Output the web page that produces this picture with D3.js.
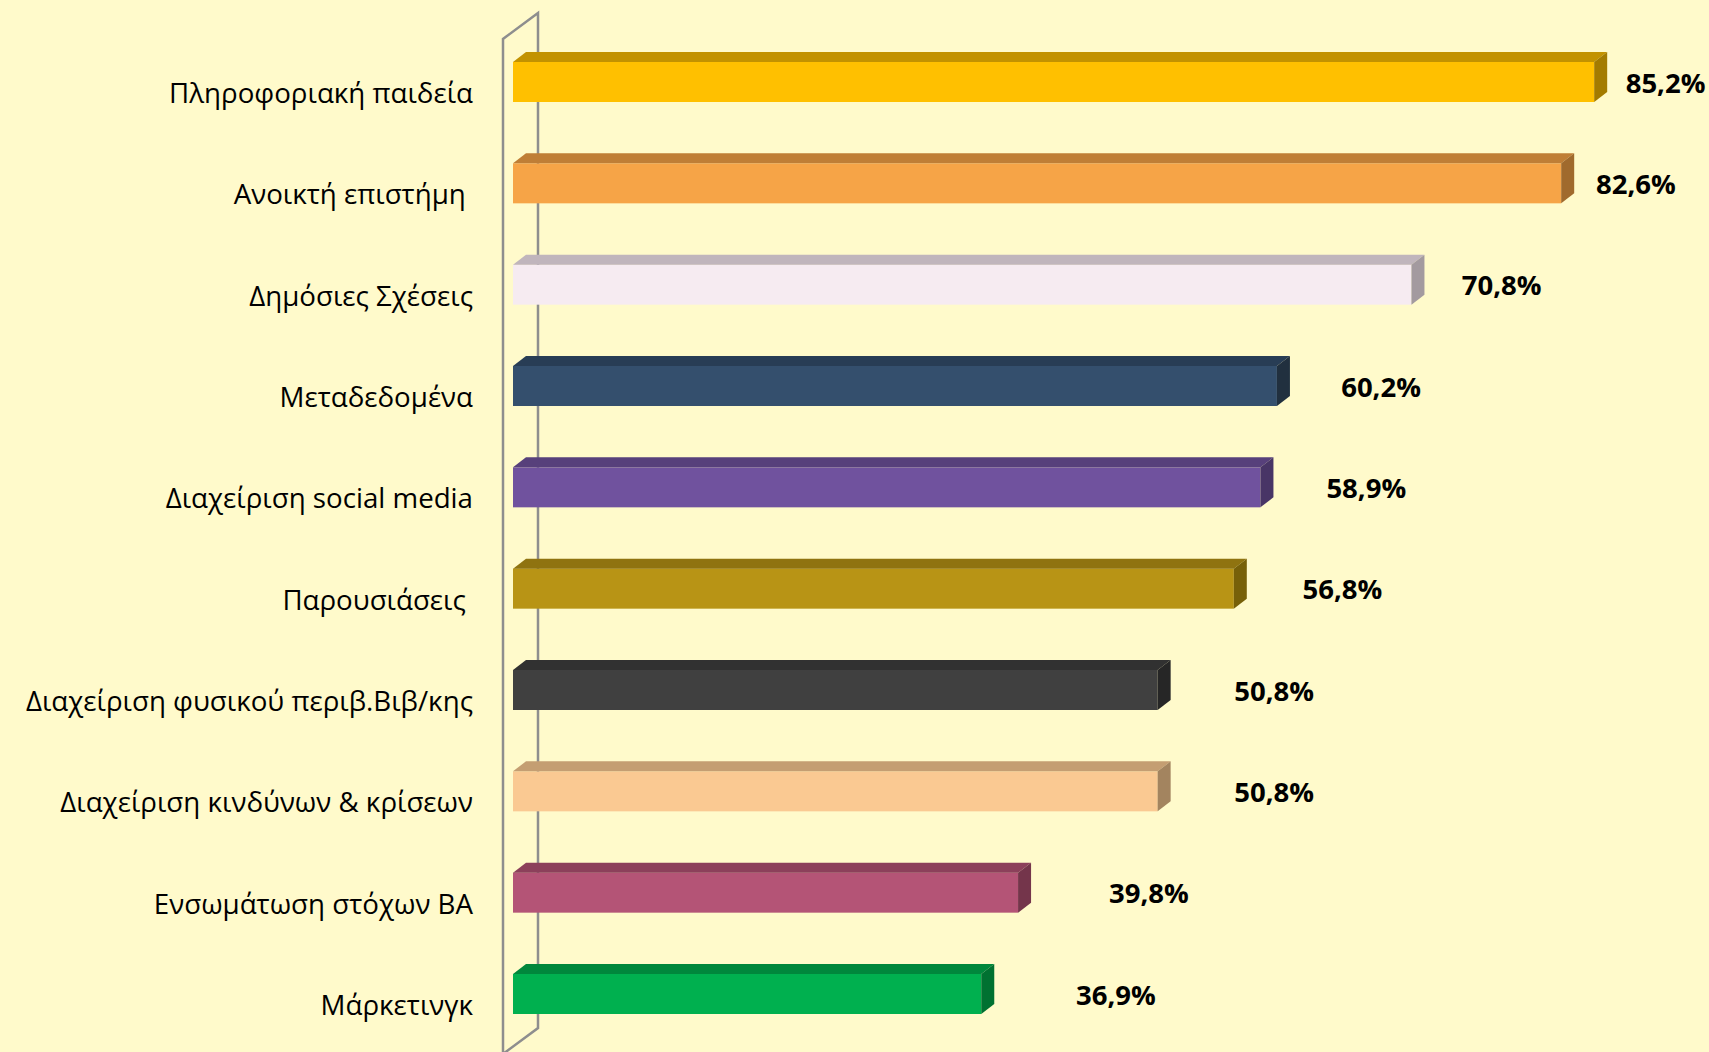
<!DOCTYPE html>
<html>
<head>
<meta charset="utf-8">
<script src="https://cdn.jsdelivr.net/npm/d3@7"></script>
<style>
  html, body { margin: 0; padding: 0; background: #FFFACB; }
  svg { display: block; }
  .cat { font-family: 'Open Sans', 'Noto Sans', sans-serif; font-size: 27.7px; fill: #000; white-space: pre; }
  .val { font-family: 'Open Sans', 'Noto Sans', sans-serif; font-size: 27.5px; font-weight: bold; fill: #000; }
</style>
</head>
<body>
<svg width="1709" height="1052"></svg>
<script>
//categories, top to bottom
const categories = [
  'Πληροφοριακή παιδεία',
  'Ανοικτή επιστήμη ',
  'Δημόσιες Σχέσεις',
  'Μεταδεδομένα',
  'Διαχείριση social media',
  'Παρουσιάσεις ',
  'Διαχείριση φυσικού περιβ.Βιβ/κης',
  'Διαχείριση κινδύνων & κρίσεων',
  'Ενσωμάτωση στόχων ΒΑ',
  'Μάρκετινγκ'
];

//percentages
const values = [85.2, 82.6, 70.8, 60.2, 58.9, 56.8, 50.8, 50.8, 39.8, 36.9];

//bar colours: front, top, side
const fronts = ['#FFC000', '#F6A447', '#F6EBF1', '#344F6D', '#70529E', '#B89415', '#404040', '#FAC992', '#B45476', '#00B04F'];
const tops   = ['#C29200', '#BF7E36', '#C0B5BC', '#283D55', '#57407B', '#8F7310', '#313131', '#C49E72', '#8C405B', '#00873C'];
const sides  = ['#A37B00', '#A06A2D', '#A39A9F', '#21303F', '#483566', '#776009', '#262626', '#A3845F', '#74354B', '#007131'];

const svg = d3.select('svg');
const width = +svg.attr('width');
const height = +svg.attr('height');

//background
svg.append('rect')
  .attr('width', width)
  .attr('height', height)
  .attr('fill', '#FFFACB');

//scales
const xScale = d3.scaleLinear()
  .domain([0, 100])
  .range([513, 1782]);

const yScale = d3.scalePoint()
  .domain(categories)
  .range([82, 994]);

//value labels sit a little further out for the longer bars
const labelScale = d3.scaleLinear()
  .domain([0, 100])
  .range([696, 1834]);

const barH = 40;
const dx = 13, dy = 10;

//the back wall of the 3d plot
const x0 = xScale(0);
svg.append('path')
  .attr('d', `M${x0 - 10},${height + 2} L${x0 - 10},39 L${x0 + 25},13 L${x0 + 25},1028 L${x0 - 10},${height + 2}`)
  .attr('fill', 'none')
  .attr('stroke', '#8E8E8E')
  .attr('stroke-width', 2.5);

//bars
const data = categories.map((c, i) => ({cat: c, value: values[i], i: i}));

const bars = svg.selectAll('g.bar')
  .data(data)
  .enter()
  .append('g')
    .attr('class', 'bar');

bars.append('rect')
  .attr('x', x0)
  .attr('y', d => yScale(d.cat) - barH / 2)
  .attr('width', d => xScale(d.value) - x0)
  .attr('height', barH)
  .attr('fill', d => fronts[d.i]);

bars.append('path')
  .attr('d', d => {
    const y = yScale(d.cat) - barH / 2;
    const x1 = xScale(d.value);
    return `M${x0},${y} L${x0 + dx},${y - dy} L${x1 + dx},${y - dy} L${x1},${y} Z`;
  })
  .attr('fill', d => tops[d.i]);

bars.append('path')
  .attr('d', d => {
    const y = yScale(d.cat) - barH / 2;
    const x1 = xScale(d.value);
    return `M${x1},${y} L${x1 + dx},${y - dy} L${x1 + dx},${y + barH - dy} L${x1},${y + barH} Z`;
  })
  .attr('fill', d => sides[d.i]);

//category labels
svg.selectAll('text.cat')
  .data(data)
  .enter()
  .append('text')
    .attr('class', 'cat')
    .attr('x', 473)
    .attr('y', d => yScale(d.cat) + 10)
    .attr('text-anchor', 'end')
    .attr('dominant-baseline', 'central')
    .text(d => d.cat);

//value labels
svg.selectAll('text.val')
  .data(data)
  .enter()
  .append('text')
    .attr('class', 'val')
    .attr('x', d => labelScale(d.value))
    .attr('y', d => yScale(d.cat))
    .attr('text-anchor', 'middle')
    .attr('dominant-baseline', 'central')
    .text(d => d.value.toFixed(1).replace('.', ',') + '%');
</script>
</body>
</html>
